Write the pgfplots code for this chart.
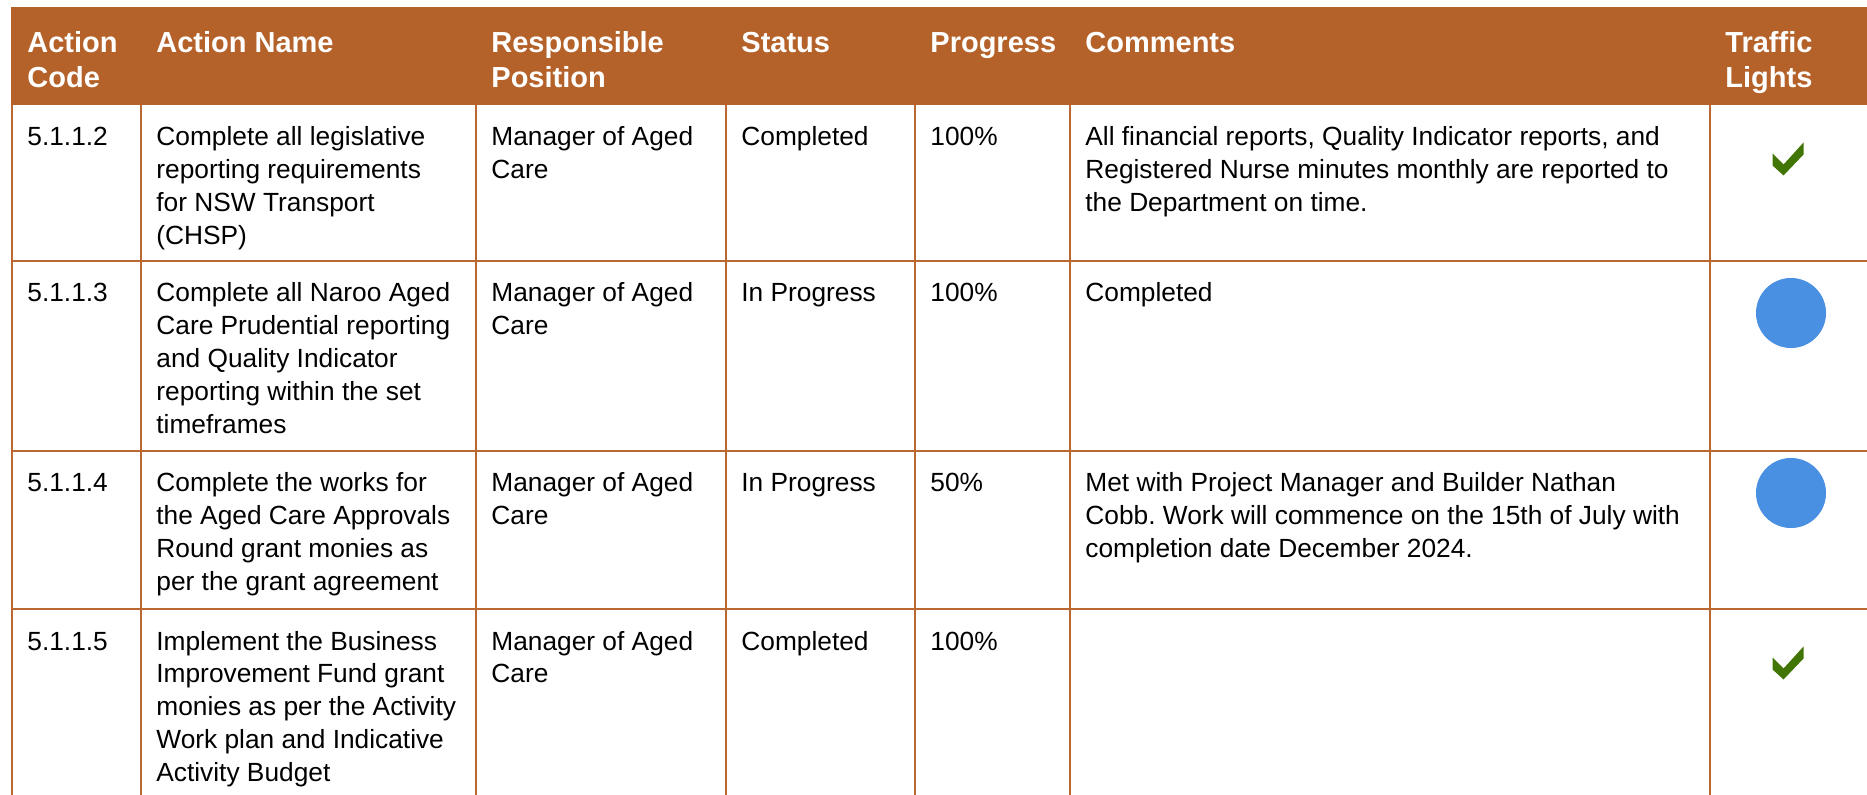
\documentclass[border=0pt]{standalone}
\usepackage{pgfplots}
\pgfplotsset{compat=1.18}
\usepackage{fontspec}
\setmainfont{Liberation Sans}
\frenchspacing
\definecolor{hdr}{HTML}{B5622A}
\definecolor{grid}{HTML}{B86830}
\definecolor{lightblue}{HTML}{4A90E2}
\definecolor{chk}{HTML}{417505}
\pgfdeclareplotmark{check}{%
  \pgfpathmoveto{\pgfpoint{-7.75pt}{2.75pt}}%
  \pgfpathlineto{\pgfpoint{-2.25pt}{-2.75pt}}%
  \pgfpathlineto{\pgfpoint{7.75pt}{8.25pt}}%
  \pgfpathlineto{\pgfpoint{7.75pt}{2.25pt}}%
  \pgfpathlineto{\pgfpoint{-2.25pt}{-8.25pt}}%
  \pgfpathlineto{\pgfpoint{-7.75pt}{-3.25pt}}%
  \pgfpathclose\pgfusepathqfill}
\tikzset{hd/.style={anchor=base west, inner sep=0pt, text=white, font={\fontsize{14.5pt}{17.5pt}\selectfont\bfseries}},
  bd/.style={anchor=base west, inner sep=0pt, text=black, font={\fontsize{13.15pt}{16.5pt}\selectfont\frenchspacing}}}
\begin{document}
\begin{tikzpicture}
\begin{axis}[name=ax, scale only axis, width=933.5pt, height=397.5pt,
  xmin=0, xmax=1867, ymin=0, ymax=795, y dir=reverse, hide axis, clip=true]
% header band
\fill[hdr] (axis cs:11,7) rectangle (axis cs:1870,105);
% grid lines
\draw[grid, line width=0.65pt] (axis cs:12,261) -- (axis cs:1870,261);
\draw[grid, line width=0.65pt] (axis cs:12,451) -- (axis cs:1870,451);
\draw[grid, line width=0.65pt] (axis cs:12,609) -- (axis cs:1870,609);
\draw[grid, line width=0.65pt] (axis cs:12,105) -- (axis cs:12,800);
\draw[grid, line width=0.65pt] (axis cs:141,105) -- (axis cs:141,800);
\draw[grid, line width=0.65pt] (axis cs:476,105) -- (axis cs:476,800);
\draw[grid, line width=0.65pt] (axis cs:726,105) -- (axis cs:726,800);
\draw[grid, line width=0.65pt] (axis cs:915,105) -- (axis cs:915,800);
\draw[grid, line width=0.65pt] (axis cs:1070,105) -- (axis cs:1070,800);
\draw[grid, line width=0.65pt] (axis cs:1710,105) -- (axis cs:1710,800);
% traffic lights
\addplot[only marks, mark=*, color=lightblue, mark size=17.3pt, mark options={draw=none}] coordinates {(1791,313) (1791,493)};
\addplot[only marks, mark=check, color=chk, mark options={fill=chk}] coordinates {(1788,159) (1788,663)};
% header text
\node[hd] at (axis cs:27,53) {Action};
\node[hd] at (axis cs:27,88) {Code};
\node[hd] at (axis cs:156,53) {Action Name};
\node[hd] at (axis cs:491,53) {Responsible};
\node[hd] at (axis cs:491,88) {Position};
\node[hd] at (axis cs:741,53) {Status};
\node[hd] at (axis cs:930,53) {Progress};
\node[hd] at (axis cs:1085,53) {Comments};
\node[hd] at (axis cs:1725,53) {Traffic};
\node[hd] at (axis cs:1725,88) {Lights};
% row 1
\node[bd] at (axis cs:27,146) {5.1.1.2};
\node[bd] at (axis cs:156,146) {Complete all legislative};
\node[bd] at (axis cs:156,178.8) {reporting requirements};
\node[bd] at (axis cs:156,211.6) {for NSW Transport};
\node[bd] at (axis cs:156,244.4) {(CHSP)};
\node[bd] at (axis cs:491,146) {Manager of Aged};
\node[bd] at (axis cs:491,178.8) {Care};
\node[bd] at (axis cs:741,146) {Completed};
\node[bd] at (axis cs:930,146) {100\%};
\node[bd] at (axis cs:1085,146) {All financial reports, Quality Indicator reports, and};
\node[bd] at (axis cs:1085,178.8) {Registered Nurse minutes monthly are reported to};
\node[bd] at (axis cs:1085,211.6) {the Department on time.};
% row 2
\node[bd] at (axis cs:27,302) {5.1.1.3};
\node[bd] at (axis cs:156,302) {Complete all Naroo Aged};
\node[bd] at (axis cs:156,334.8) {Care Prudential reporting};
\node[bd] at (axis cs:156,367.6) {and Quality Indicator};
\node[bd] at (axis cs:156,400.4) {reporting within the set};
\node[bd] at (axis cs:156,433.2) {timeframes};
\node[bd] at (axis cs:491,302) {Manager of Aged};
\node[bd] at (axis cs:491,334.8) {Care};
\node[bd] at (axis cs:741,302) {In Progress};
\node[bd] at (axis cs:930,302) {100\%};
\node[bd] at (axis cs:1085,302) {Completed};
% row 3
\node[bd] at (axis cs:27,492) {5.1.1.4};
\node[bd] at (axis cs:156,492) {Complete the works for};
\node[bd] at (axis cs:156,524.8) {the Aged Care Approvals};
\node[bd] at (axis cs:156,557.6) {Round grant monies as};
\node[bd] at (axis cs:156,590.4) {per the grant agreement};
\node[bd] at (axis cs:491,492) {Manager of Aged};
\node[bd] at (axis cs:491,524.8) {Care};
\node[bd] at (axis cs:741,492) {In Progress};
\node[bd] at (axis cs:930,492) {50\%};
\node[bd] at (axis cs:1085,492) {Met with Project Manager and Builder Nathan};
\node[bd] at (axis cs:1085,524.8) {Cobb. Work will commence on the 15th of July with};
\node[bd] at (axis cs:1085,557.6) {completion date December 2024.};
% row 4
\node[bd] at (axis cs:27,650) {5.1.1.5};
\node[bd] at (axis cs:156,650) {Implement the Business};
\node[bd] at (axis cs:156,682.8) {Improvement Fund grant};
\node[bd] at (axis cs:156,715.6) {monies as per the Activity};
\node[bd] at (axis cs:156,748.4) {Work plan and Indicative};
\node[bd] at (axis cs:156,781.2) {Activity Budget};
\node[bd] at (axis cs:491,650) {Manager of Aged};
\node[bd] at (axis cs:491,682.8) {Care};
\node[bd] at (axis cs:741,650) {Completed};
\node[bd] at (axis cs:930,650) {100\%};
\end{axis}
\pgfresetboundingbox
\useasboundingbox (ax.south west) rectangle (ax.north east);
\end{tikzpicture}
\end{document}
